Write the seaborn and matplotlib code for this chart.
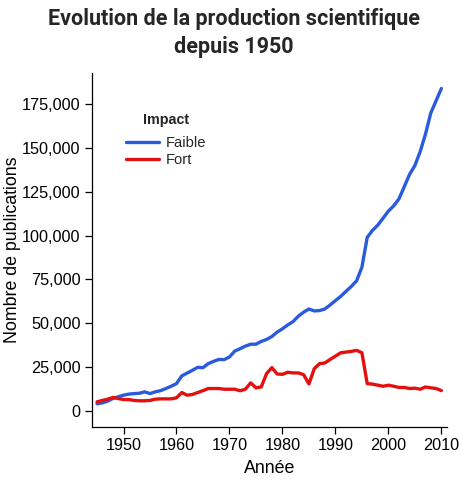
import pandas as pd
import matplotlib
matplotlib.use("Agg")
import matplotlib.pyplot as plt
import matplotlib.ticker as mticker
import seaborn as sns

# Data
years = list(range(1945, 2011))

faible = [4000, 4500, 5500, 7000, 8000, 8900, 9500, 9800, 10000, 10800,
          9800, 10800, 11500, 12700, 14000, 15500, 19900, 21500, 23100, 24800,
          24600, 26900, 28200, 29300, 29200, 30700, 34100, 35400, 36900, 38000,
          38000, 39600, 40700, 42400, 44900, 46800, 49000, 50900, 54000, 56300,
          58100, 57000, 57200, 58100, 60400, 62900, 65300, 68200, 71000, 74200,
          82000, 99000, 103000, 106000, 110000, 114000, 117000, 121000, 128000, 135000,
          140000, 148000, 158000, 170000, 177000, 184000]

fort = [5100, 5900, 6600, 7600, 7000, 6400, 6400, 5900, 5700, 5700,
        5900, 6600, 6800, 6800, 6800, 7400, 10400, 8900, 9300, 10400,
        11500, 12700, 12700, 12700, 12300, 12300, 12300, 11400, 12300, 15900,
        13100, 13600, 21200, 24600, 21000, 20800, 22000, 21600, 21600, 20600,
        15300, 24000, 26900, 27300, 29300, 31200, 33100, 33500, 33900, 34500,
        33100, 15500, 15200, 14600, 14000, 14600, 14000, 13300, 13300, 12700,
        12900, 12300, 13600, 13100, 12700, 11500]

series_names = ["Faible", "Fort"]
colors = ["#2a5bdc", "#e40f0f"]

df = pd.DataFrame({
    "Année": years * 2,
    "Nombre de publications": faible + fort,
    "Impact": [series_names[0]] * len(years) + [series_names[1]] * len(years),
})

sns.set_theme(style="ticks")
plt.rcParams["font.family"] = ["Liberation Sans", "DejaVu Sans"]

fig = plt.figure(figsize=(4.67, 4.88), dpi=100)
ax = fig.add_axes([0.1964, 0.1256, 0.7601, 0.7254])

sns.lineplot(data=df, x="Année", y="Nombre de publications", hue="Impact",
             palette=dict(zip(series_names, colors)), linewidth=2.4, ax=ax)

ax.set_xlim(1944, 2011)
ax.set_ylim(-9100, 193000)
ax.set_xticks(range(1950, 2011, 10))
ax.set_yticks(range(0, 175001, 25000))
ax.yaxis.set_major_formatter(mticker.StrMethodFormatter("{x:,.0f}"))
ax.tick_params(labelsize=11.7, length=5, width=0.9, pad=3,
               color="black", labelcolor="black")
ax.set_xlabel("Année", fontsize=12.8, color="black", labelpad=5)
ax.set_ylabel("Nombre de publications", fontsize=12.8, color="black")
ax.yaxis.set_label_coords(-0.2, 0.5)
for side in ["left", "bottom"]:
    ax.spines[side].set_color("black")
    ax.spines[side].set_linewidth(0.9)
sns.despine(ax=ax)

leg = ax.legend(title="Impact", frameon=False, loc="upper left",
                bbox_to_anchor=(0.06, 0.925), fontsize=10.6, title_fontsize=10.4,
                handlelength=2.25, handletextpad=0.45, labelspacing=0.22)
leg.get_title().set_fontweight("bold")
leg._legend_box.sep = 7

fig.suptitle("Evolution de la production scientifique\ndepuis 1950",
             x=0.5, y=0.983, fontsize=15.5, fontweight="bold",
             family=["Roboto", "DejaVu Sans"], linespacing=1.35)

fig.savefig("out.png", dpi=100)
